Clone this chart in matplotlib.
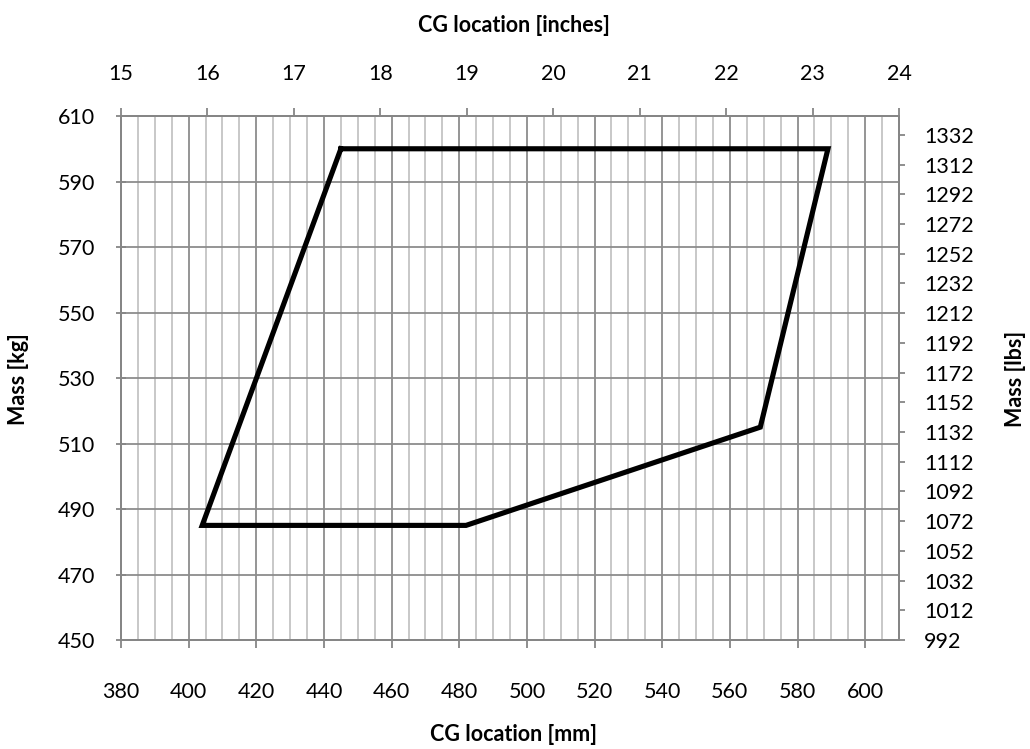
import matplotlib.pyplot as plt
import numpy as np

# CG envelope, mm and kg (closed polygon)
cg_mm = [445, 589, 569, 482, 404, 445]
mass_kg = [600, 600, 515, 485, 485, 600]

x_ticks_mm = np.arange(380, 601, 20)
y_ticks_kg = np.arange(450, 611, 20)
x_ticks_in = np.arange(15, 25, 1)
y_ticks_lbs = np.arange(992, 1333, 20)

KG2LB = 2.20462
grid_major = '#8c8c8c'
grid_minor = '#c4c4c4'
axis_col = '#868686'
fs = 15.5

plt.rcParams['font.family'] = ['Lato', 'DejaVu Sans']

fig = plt.figure(figsize=(10.30, 7.49), dpi=100)
ax = fig.add_axes([0.1175, 0.1455, 0.7553, 0.6996])

ax.set_xlim(380, 610)
ax.set_ylim(450, 610)
ax.set_xticks(x_ticks_mm)
ax.set_xticks(np.arange(385, 610, 5), minor=True)
ax.set_yticks(y_ticks_kg)

ax.grid(which='minor', axis='x', color=grid_minor, lw=1.3)
ax.grid(which='major', axis='x', color=grid_major, lw=1.3)
ax.grid(which='major', axis='y', color=grid_major, lw=1.3)
ax.set_axisbelow(True)

ax.plot(cg_mm, mass_kg, color='black', lw=3.7, solid_joinstyle='miter', zorder=5)

for s in ax.spines.values():
    s.set_color(axis_col)
    s.set_linewidth(1.3)

ax.tick_params(axis='x', which='major', direction='out', length=6, width=1.3,
               color=axis_col, labelsize=fs, pad=24)
ax.tick_params(axis='x', which='minor', length=0)
ax.tick_params(axis='y', direction='inout', length=7, width=1.3,
               color=axis_col, labelsize=fs, pad=15)

# top axis in inches
axt = ax.twiny()
axt.set_xlim(15, 24)
axt.set_xticks(x_ticks_in)
axt.tick_params(axis='x', direction='out', length=6, width=1.3,
                color=axis_col, labelsize=fs, pad=17)

# right axis in lbs
axr = ax.twinx()
axr.set_ylim(992, 992 + 160 * KG2LB)
axr.set_yticks(y_ticks_lbs)
axr.tick_params(axis='y', direction='out', length=4, width=1.3,
                color=axis_col, labelsize=fs, pad=14)

for a in (axt, axr):
    for s in a.spines.values():
        s.set_color(axis_col)
        s.set_linewidth(1.3)

fig.text(0.4985, 0.019, 'CG location [mm]', ha='center', va='center',
         fontsize=fs, fontweight='bold')
fig.text(0.4985, 0.966, 'CG location [inches]', ha='center', va='center',
         fontsize=fs, fontweight='bold')
fig.text(0.018, 0.4935, 'Mass [kg]', ha='center', va='center', rotation=90,
         fontsize=fs, fontweight='bold')
fig.text(0.986, 0.4935, 'Mass [lbs]', ha='center', va='center', rotation=90,
         fontsize=fs, fontweight='bold')

fig.savefig('out.png', dpi=100)
